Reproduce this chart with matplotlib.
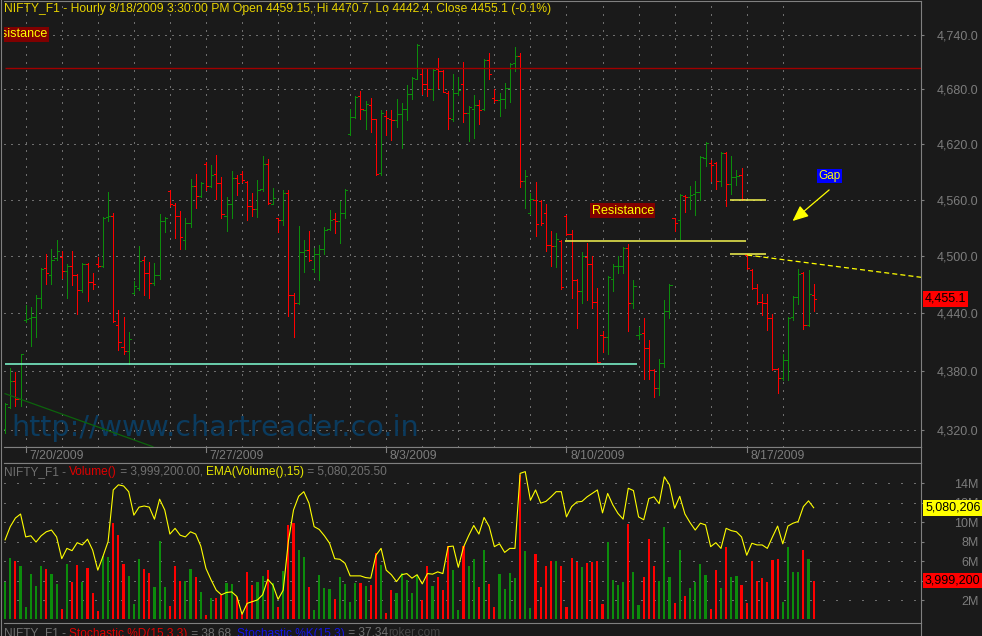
import numpy as np
import matplotlib.pyplot as plt
from matplotlib.lines import Line2D
from matplotlib.ticker import NullLocator, NullFormatter

plt.rcParams['font.family'] = ['Liberation Sans', 'DejaVu Sans']

W, H = 982, 636

BG = '#1a1a1a'
FRAME = '#808080'
LABEL = '#7c7c7c'
DOTS = '#6e6e6e'
UP = '#0c8c0c'
DOWN = '#ff0000'

# NIFTY_F1 hourly bars, 7/17/2009 afternoon .. 8/18/2009 3:30 PM
opens = [4321, 4343, 4370, 4351, 4433, 4435, 4436, 4456, 4487, 4480,
         4498, 4499, 4484, 4490, 4480, 4464, 4492, 4473, 4492, 4489,
         4542, 4543, 4428, 4405, 4401, 4461, 4466, 4496, 4482, 4472,
         4480, 4537, 4569, 4554, 4543, 4517, 4535, 4575, 4564, 4599,
         4575, 4588, 4578, 4543, 4555, 4583, 4588, 4579, 4553, 4550,
         4572, 4599, 4556, 4540, 4538, 4567, 4459, 4451, 4504, 4506,
         4486, 4502, 4507, 4529, 4539, 4537, 4546, 4631, 4650, 4673,
         4657, 4663, 4647, 4589, 4651, 4648, 4646, 4653, 4658, 4675,
         4692, 4697, 4686, 4680, 4702, 4700, 4676, 4647, 4676, 4686,
         4654, 4659, 4663, 4658, 4712, 4671, 4668, 4669, 4682, 4709,
         4717, 4580, 4546, 4560, 4559, 4546, 4512, 4511, 4516, 4543,
         4523, 4475, 4463, 4499, 4492, 4452, 4417, 4415, 4476, 4489,
         4490, 4509, 4451, 4417, 4419, 4404, 4381, 4362, 4388, 4442,
         4540, 4538, 4564, 4563, 4566, 4568, 4605, 4600, 4600, 4580,
         4611, 4577, 4584, 4587, 4501, 4485, 4466, 4452, 4451, 4435,
         4382, 4373, 4391, 4436, 4457, 4482, 4428, 4459.15]
highs = [4347, 4383, 4379, 4398, 4449, 4446, 4459, 4487, 4502, 4508,
         4517, 4505, 4492, 4505, 4481, 4493, 4493, 4482, 4499, 4542,
         4568, 4546, 4443, 4436, 4420, 4474, 4511, 4499, 4494, 4493,
         4545, 4542, 4570, 4557, 4548, 4541, 4582, 4588, 4579, 4601,
         4597, 4608, 4584, 4563, 4591, 4587, 4591, 4580, 4567, 4581,
         4607, 4604, 4573, 4541, 4571, 4571, 4461, 4532, 4517, 4527,
         4509, 4512, 4531, 4549, 4546, 4559, 4572, 4658, 4673, 4678,
         4667, 4671, 4648, 4657, 4656, 4657, 4670, 4665, 4685, 4694,
         4730, 4702, 4702, 4702, 4715, 4701, 4678, 4697, 4694, 4710,
         4662, 4674, 4668, 4714, 4720, 4681, 4676, 4687, 4709, 4727,
         4720, 4592, 4567, 4579, 4560, 4556, 4527, 4525, 4517, 4544,
         4528, 4476, 4504, 4514, 4500, 4466, 4421, 4479, 4492, 4500,
         4510, 4513, 4475, 4426, 4435, 4412, 4382, 4392, 4454, 4471,
         4541, 4566, 4565, 4575, 4580, 4607, 4622, 4603, 4601, 4612,
         4612, 4607, 4592, 4594, 4502, 4486, 4471, 4460, 4460, 4439,
         4383, 4398, 4436, 4458, 4486, 4483, 4485, 4470.7]
lows = [4317, 4342, 4344, 4344, 4431, 4406, 4415, 4445, 4471, 4471,
        4496, 4477, 4456, 4470, 4439, 4462, 4453, 4465, 4488, 4488,
        4537, 4431, 4402, 4398, 4387, 4460, 4464, 4459, 4456, 4470,
        4476, 4526, 4553, 4519, 4508, 4507, 4531, 4551, 4563, 4570,
        4574, 4561, 4541, 4527, 4540, 4565, 4579, 4538, 4543, 4542,
        4569, 4556, 4555, 4526, 4533, 4437, 4415, 4450, 4483, 4495,
        4483, 4475, 4502, 4528, 4524, 4514, 4541, 4630, 4649, 4647,
        4637, 4633, 4587, 4587, 4630, 4625, 4639, 4616, 4646, 4669,
        4691, 4675, 4673, 4668, 4682, 4677, 4637, 4645, 4674, 4644,
        4623, 4627, 4642, 4657, 4692, 4666, 4651, 4660, 4666, 4700,
        4574, 4551, 4545, 4521, 4533, 4505, 4490, 4488, 4465, 4522,
        4456, 4425, 4451, 4454, 4445, 4388, 4400, 4398, 4463, 4482,
        4482, 4421, 4445, 4413, 4372, 4372, 4353, 4355, 4384, 4435,
        4527, 4518, 4547, 4550, 4544, 4560, 4596, 4580, 4572, 4575,
        4553, 4566, 4576, 4560, 4486, 4465, 4450, 4438, 4422, 4381,
        4357, 4371, 4371, 4433, 4450, 4423, 4427, 4442.4]
closes = [4346, 4370, 4351, 4397, 4434, 4436, 4456, 4486, 4482, 4496,
          4505, 4484, 4490, 4480, 4464, 4492, 4473, 4471, 4489, 4541,
          4543, 4432, 4410, 4401, 4413, 4468, 4495, 4482, 4472, 4480,
          4537, 4540, 4555, 4543, 4520, 4535, 4575, 4564, 4578, 4575,
          4587, 4578, 4545, 4555, 4583, 4578, 4581, 4553, 4550, 4571,
          4599, 4557, 4562, 4538, 4567, 4459, 4451, 4504, 4506, 4496,
          4502, 4507, 4528, 4538, 4537, 4546, 4571, 4650, 4672, 4658,
          4664, 4648, 4588, 4654, 4649, 4646, 4653, 4658, 4675, 4693,
          4729, 4686, 4680, 4701, 4700, 4677, 4649, 4676, 4679, 4654,
          4661, 4663, 4657, 4713, 4697, 4668, 4669, 4682, 4708, 4717,
          4580, 4586, 4561, 4534, 4535, 4512, 4511, 4518, 4467, 4523,
          4475, 4463, 4500, 4492, 4452, 4389, 4415, 4478, 4489, 4490,
          4509, 4451, 4468, 4418, 4404, 4381, 4362, 4388, 4442, 4470,
          4535, 4565, 4563, 4565, 4568, 4606, 4621, 4598, 4580, 4611,
          4577, 4585, 4586, 4561, 4487, 4466, 4452, 4451, 4435, 4382,
          4373, 4391, 4435, 4457, 4481, 4428, 4460, 4455.1]

# volume per bar, millions
volumes = [3.85, 6.32, 6.04, 5.50, 1.31, 4.67, 3.44, 5.50, 5.22, 4.67,
           3.65, 1.11, 5.70, 3.85, 5.60, 3.85, 5.29, 2.75, 0.90, 6.52,
           6.45, 9.89, 8.65, 5.70, 4.47, 1.59, 6.25, 5.22, 4.74, 3.37,
           8.10, 3.30, 1.41, 5.50, 3.92, 3.95, 5.22, 4.33, 2.82, 0.46,
           2.21, 2.21, 2.48, 3.71, 3.65, 2.34, 0.56, 4.88, 3.57, 3.85,
           4.47, 5.08, 3.71, 1.31, 4.95, 9.68, 9.89, 7.14, 6.45, 3.37,
           0.97, 4.53, 3.23, 3.10, 2.07, 4.33, 3.65, 1.79, 3.71, 3.78,
           3.44, 3.51, 6.80, 5.63, 0.69, 3.03, 2.75, 4.74, 4.06, 2.75,
           4.53, 2.00, 5.50, 3.44, 4.33, 3.03, 7.55, 5.08, 0.97, 7.55,
           5.50, 6.25, 3.30, 7.14, 3.65, 1.25, 4.67, 3.13, 4.78, 4.30,
           14.85, 7.04, 1.18, 6.73, 3.34, 5.50, 6.01, 6.01, 5.50, 1.28,
           6.32, 5.91, 5.39, 5.80, 5.91, 6.01, 1.59, 7.96, 4.06, 3.54,
           3.85, 9.82, 4.88, 1.49, 4.37, 8.27, 5.50, 3.95, 9.51, 4.37,
           1.69, 7.14, 2.41, 3.23, 3.85, 5.70, 4.57, 1.07, 5.08, 3.23,
           7.45, 4.37, 4.47, 3.54, 1.69, 6.01, 3.95, 4.26, 3.85, 6.11,
           6.22, 1.79, 7.45, 4.88, 4.88, 7.14, 6.22, 3.9992]

# EMA(Volume(),15), millions (drawn on its own scale)
ema_vol = [4.52, 4.75, 4.90, 4.97, 4.57, 4.59, 4.48, 4.59, 4.66, 4.69,
           4.57, 4.19, 4.37, 4.33, 4.47, 4.43, 4.53, 4.34, 3.99, 4.23,
           4.49, 5.39, 5.48, 5.46, 5.36, 4.95, 5.09, 5.11, 5.09, 4.88,
           5.23, 5.04, 4.62, 4.72, 4.60, 4.57, 4.66, 4.62, 4.41, 4.02,
           3.82, 3.64, 3.56, 3.60, 3.61, 3.53, 3.22, 3.41, 3.44, 3.47,
           3.56, 3.83, 3.73, 3.48, 3.64, 4.49, 5.04, 5.28, 5.36, 5.16,
           4.75, 4.70, 4.59, 4.46, 4.19, 4.18, 4.11, 3.89, 3.89, 3.89,
           3.86, 3.85, 4.25, 4.37, 3.99, 3.91, 3.79, 3.91, 3.93, 3.85,
           3.91, 3.75, 3.93, 3.92, 3.96, 3.93, 4.40, 4.41, 4.04, 4.39,
           4.59, 4.77, 4.62, 4.91, 4.75, 4.40, 4.45, 4.30, 4.37, 4.37,
           5.68, 5.71, 5.21, 5.39, 5.16, 5.19, 5.27, 5.36, 5.36, 4.92,
           5.10, 5.18, 5.19, 5.27, 5.33, 5.39, 4.99, 5.33, 5.13, 4.98,
           4.88, 5.42, 5.38, 4.92, 4.87, 5.24, 5.27, 5.15, 5.62, 5.48,
           5.07, 5.28, 4.97, 4.82, 4.69, 4.81, 4.78, 4.40, 4.47, 4.37,
           4.72, 4.68, 4.66, 4.57, 4.25, 4.46, 4.43, 4.43, 4.37, 4.57,
           4.76, 4.45, 4.76, 4.81, 4.84, 5.10, 5.20, 5.080206]

week_bars = [4, 39, 74, 109, 144]
week_labels = ['7/20/2009', '7/27/2009', '8/3/2009', '8/10/2009', '8/17/2009']
day_bars = list(range(4, 158, 7))

price_ticks = [4320, 4380, 4440, 4500, 4560, 4620, 4680, 4740]
vol_ticks = [2, 4, 6, 8, 10, 12, 14]


def fx(px):
    return px / W


def fy(py):
    return 1 - py / H


fig = plt.figure(figsize=(W / 100, H / 100), dpi=100, facecolor=BG)

ax = fig.add_axes([fx(4), fy(447), fx(921) - fx(4), fy(1) - fy(447)], facecolor=BG)
ax_d = fig.add_axes([fx(4), fy(463), fx(921) - fx(4), fy(447) - fy(463)], facecolor=BG)
ax_v = fig.add_axes([fx(4), fy(623), fx(921) - fx(4), fy(463) - fy(623)], facecolor=BG)
# EMA overlay gets its own scale; create it before styling, twinx moves the host ticks
ax_e = ax_v.twinx()

for a in (ax, ax_d, ax_v):
    a.set_xlim(-0.214, 177.84)
    a.set_xticks([])
    for sp in a.spines.values():
        sp.set_color(FRAME)
        sp.set_linewidth(0.8)
    a.spines['left'].set_visible(False)
    a.yaxis.tick_right()
    a.tick_params(axis='y', which='both', left=False, labelleft=False,
                  right=True, labelright=True, direction='out', length=2.5,
                  width=0.8, color=FRAME, labelcolor=LABEL, labelsize=9, pad=39)

# ---- price panel ----
ax.set_yscale('log')
ax.set_ylim(4302.3, 4778.4)
ax.set_yticks(price_ticks, labels=[f'{v:,.1f}' for v in price_ticks], ha='right')
ax.yaxis.set_minor_locator(NullLocator())
ax.yaxis.set_minor_formatter(NullFormatter())

for v in price_ticks:
    ax.axhline(v, color=DOTS, lw=0.75, ls=(0, (1, 5)), zorder=1, antialiased=False)
for d in day_bars:
    ax.axvline(d, color=DOTS, lw=0.75, ls=(0, (1, 6)), zorder=1, antialiased=False)

ax.text(1.15, 4313.4, 'http://www.chartreader.co.in', family='DejaVu Sans',
        fontsize=20.6, color='#0b3b5e', va='baseline', ha='left', zorder=1)

bars = np.arange(len(opens))
o, h, l, c = (np.array(s, dtype=float) for s in (opens, highs, lows, closes))
colors = np.where(c >= o, UP, DOWN)

ax.vlines(bars, l, h, colors=colors, lw=0.72, zorder=2, antialiased=False)
ax.hlines(o, bars - 0.42, bars, colors=colors, lw=0.72, zorder=2, antialiased=False)
ax.hlines(c, bars, bars + 0.42, colors=colors, lw=0.72, zorder=2, antialiased=False)

# drawn trend / support / resistance lines
ax.hlines(4703.3, 0, 177.84, color='#a00000', lw=1.0, zorder=3)
ax.hlines(4386.8, 0, 122.6, color='#80ffd4', lw=1.1, zorder=3)
ax.plot([0, 28.7], [4356.6, 4302.6], color='#0c640c', lw=0.9, zorder=3)
ax.hlines(4515.7, 108.7, 143.8, color='#f4f450', lw=1.1, zorder=3)
ax.hlines([4559.5, 4501.9], 140.8, 147.7, color='#f4f450', lw=1.1, zorder=3)
ax.plot([144.1, 177.84], [4501.1, 4477.6], color='#ffff00', lw=0.9,
        ls=(0, (4, 2.5)), zorder=3)

box_txt = dict(color='#ffff00', fontsize=9, va='center', zorder=5)
ax.text(8.2, 4741.0, 'Resistance', ha='right', clip_on=True,
        bbox=dict(boxstyle='square,pad=0.12', fc='#800000', ec='none'), **box_txt)
ax.text(113.9, 4548.5, 'Resistance', ha='left',
        bbox=dict(boxstyle='square,pad=0.12', fc='#800000', ec='none'), **box_txt)
ax.text(160.0, 4585.6, 'Gap', ha='center', color='#ffff00', fontsize=8.5, va='center',
        zorder=5, bbox=dict(boxstyle='square,pad=0.12', fc='#0000ff', ec='none'))
ax.annotate('', xy=(152.9, 4537.3), xytext=(160.0, 4570.6),
            arrowprops=dict(arrowstyle='-|>,head_length=0.8,head_width=0.35',
                            color='#ffff00', lw=0.9, mutation_scale=12,
                            shrinkA=0, shrinkB=0), zorder=5)

ylab = ax.get_yaxis_transform()
ax.text(1.0044, closes[-1], f'{closes[-1]:,.1f}', transform=ylab, ha='left', va='center',
        color='black', fontsize=9, clip_on=False, zorder=6,
        bbox=dict(boxstyle='square,pad=0.15', fc='#ff0000', ec='none'))

title = (f'NIFTY_F1 - Hourly 8/18/2009 3:30:00 PM Open {opens[-1]}, Hi {highs[-1]}, '
         f'Lo {lows[-1]}, Close {closes[-1]} (-0.1%)')
fig.text(fx(4), fy(9), title, color='#e6d200', fontsize=8.7, va='center', ha='left')

# ---- date strip ----
ax_d.set_ylim(0, 1)
ax_d.set_yticks([])
for b, lab in zip(week_bars, week_labels):
    ax_d.plot([b, b], [0.69, 1.0], color=FRAME, lw=0.8)
    ax_d.text(b + 0.7, 0.45, lab, color=LABEL, fontsize=8.7, va='center', ha='left')

# ---- volume panel ----
ax_v.set_ylim(-0.365, 16.09)
ax_v.set_yticks(vol_ticks, labels=[f'{v}M' for v in vol_ticks], ha='right')
for v in vol_ticks:
    ax_v.axhline(v, color=DOTS, lw=0.75, ls=(0, (1, 11)), zorder=0.5, antialiased=False)
ax_v.bar(bars, volumes, width=0.42, color=colors, lw=0, zorder=2, antialiased=False)
ax_v.text(1.0044, volumes[-1], f'{round(volumes[-1] * 1e6):,}',
          transform=ax_v.get_yaxis_transform(), ha='left', va='center', color='black',
          fontsize=9, clip_on=False, zorder=6,
          bbox=dict(boxstyle='square,pad=0.15', fc='#ff0000', ec='none'))

ax_e.set_ylim(3.067, 5.861)
ax_e.plot(bars, ema_vol, color='#ffff00', lw=0.8, zorder=3)
ax_e.set_axis_off()
ax_e.text(1.0044, ema_vol[-1], f'{round(ema_vol[-1] * 1e6):,}',
          transform=ax_e.get_yaxis_transform(), ha='left', va='center', color='black',
          fontsize=9, clip_on=False, zorder=6,
          bbox=dict(boxstyle='square,pad=0.15', fc='#ffff00', ec='none'))


def text_run(x, y, parts, size=8.6):
    t = fig.text(x, y, parts[0][0], color=parts[0][1], fontsize=size, va='top', ha='left')
    for s, col in parts[1:]:
        t = ax_v.annotate(s, xy=(1, 1), xycoords=t, va='top', ha='left',
                          color=col, fontsize=size)
    return t


GREY_TXT = '#707070'
text_run(fx(4), fy(466), [
    ('NIFTY_F1 - ', GREY_TXT),
    ('Volume()', '#e00000'),
    (f' = {volumes[-1] * 1e6:,.2f}, ', GREY_TXT),
    ('EMA(Volume(),15)', '#e8e800'),
    (' = 5,080,205.50', GREY_TXT),
])
text_run(fx(4), fy(627.5), [
    ('NIFTY_F1 - ', GREY_TXT),
    ('Stochastic %D(15,3,3)', '#e00000'),
    (' = 38.68, ', GREY_TXT),
    ('Stochastic %K(15,3)', '#1414e6'),
    (' = 37.34', GREY_TXT),
    ('roker.com', '#484848'),
])

# outer frame pieces
fig.add_artist(Line2D([fx(0.5), fx(0.5)], [0, 1], transform=fig.transFigure,
                      color=FRAME, lw=0.8))
fig.add_artist(Line2D([fx(921), fx(921)], [0, fy(623)], transform=fig.transFigure,
                      color=FRAME, lw=0.8))

fig.savefig('out.png', dpi=100, facecolor=BG)
